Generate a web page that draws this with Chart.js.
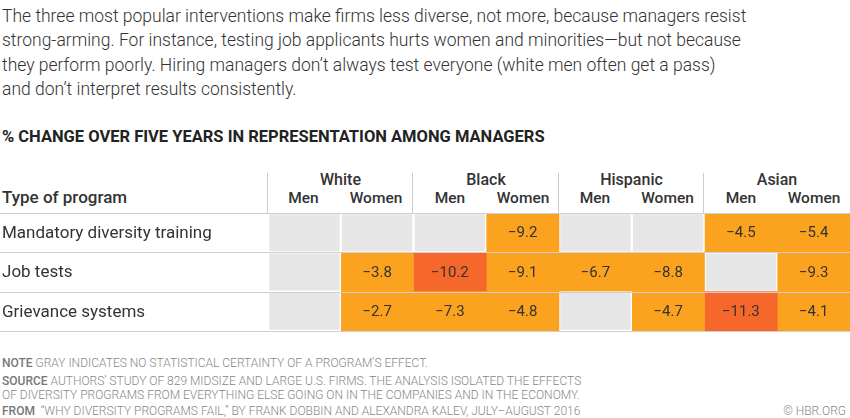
<!DOCTYPE html>
<html><head><meta charset="utf-8">
<script src="https://cdn.jsdelivr.net/npm/chart.js@4/dist/chart.umd.min.js"></script>
<style>
body{margin:0;width:850px;height:418px;background:#fff;font-family:"Roboto",sans-serif;color:#333;position:relative;overflow:hidden}
.abs{position:absolute;white-space:nowrap}
#intro{left:2px;top:4px;font-size:17.5px;line-height:24.3px;color:#333;font-weight:300}
#title{left:2px;top:127px;font-size:16.5px;font-weight:bold;color:#222}
.grp{font-size:16px;font-weight:500;top:170px;text-align:center}
.sub{font-size:15.5px;font-weight:500;top:189px;text-align:center}
#tp{left:2px;top:187px;font-size:17px;font-weight:500}
.vl{position:absolute;top:173px;height:40px;width:1px;background:#ccc}
.foot{font-size:12px;line-height:14px;color:#888;font-weight:300}
.foot b{color:#777;font-weight:500}
#wrap{position:absolute;left:0;top:212px;width:850px;height:120px}
</style></head><body>
<div id="intro" class="abs">The three most popular interventions make firms less diverse, not more, because managers resist<br>strong-arming. For instance, testing job applicants hurts women and minorities—but not because<br>they perform poorly. Hiring managers don’t always test everyone (white men often get a pass)<br>and don’t interpret results consistently.</div>
<div id="title" class="abs">% CHANGE OVER FIVE YEARS IN REPRESENTATION AMONG MANAGERS</div>
<div id="tp" class="abs">Type of program</div>
<div id="heads"></div>
<div id="wrap"><canvas id="c"></canvas></div>
<div class="abs foot" style="left:2px;top:356px"><b>NOTE</b> GRAY INDICATES NO STATISTICAL CERTAINTY OF A PROGRAM’S EFFECT.</div>
<div class="abs foot" style="left:2px;top:374px"><b>SOURCE</b> AUTHORS’ STUDY OF 829 MIDSIZE AND LARGE U.S. FIRMS. THE ANALYSIS ISOLATED THE EFFECTS<br>OF DIVERSITY PROGRAMS FROM EVERYTHING ELSE GOING ON IN THE COMPANIES AND IN THE ECONOMY.</div>
<div class="abs foot" style="left:2px;top:404px"><b>FROM</b> &nbsp;“WHY DIVERSITY PROGRAMS FAIL,” BY FRANK DOBBIN AND ALEXANDRA KALEV, JULY–AUGUST 2016</div>
<div class="abs foot" style="right:4px;top:404px">© HBR.ORG</div>
<script>
// Données du tableau
const programs = ['Mandatory diversity training', 'Job tests', 'Grievance systems'];
const groups = ['White', 'Black', 'Hispanic', 'Asian'];
const genders = ['Men', 'Women'];
// null = gris (pas de certitude statistique)
const trainingValues = [null, null, null, -9.2, null, null, -4.5, -5.4];
const jobTestValues = [null, -3.8, -10.2, -9.1, -6.7, -8.8, null, -9.3];
const grievanceValues = [null, -2.7, -7.3, -4.8, null, -4.7, -11.3, -4.1];
const rows = [trainingValues, jobTestValues, grievanceValues];

const GRAY = '#e6e6e7', ORANGE = '#fba31f', RED = '#f5672a';
function cellColor(v) {
    if (v === null) return GRAY;
    return v <= -10 ? RED : ORANGE;
}

// En-têtes
const colEdges = [268, 339, 413, 487, 559, 631, 704, 778, 850];
let html = '';
groups.forEach(function(g, gi) {
    const l = colEdges[gi * 2], r = colEdges[gi * 2 + 2];
    html += '<div class="abs grp" style="left:' + l + 'px;width:' + (r - l) + 'px">' + g + '</div>';
    html += '<div class="vl" style="left:' + (l - 1) + 'px"></div>';
});
for (let i = 0; i < 8; i++) {
    const l = colEdges[i], r = colEdges[i + 1];
    html += '<div class="abs sub" style="left:' + l + 'px;width:' + (r - l) + 'px">' + genders[i % 2] + '</div>';
}
document.getElementById('heads').innerHTML = html;

// Une série par colonne, barres flottantes [i, i+1]
const datasets = [];
for (let col = 0; col < 8; col++) {
    datasets.push({
        data: rows.map(function() { return [col, col + 1]; }),
        values: rows.map(function(r) { return r[col]; }),
        backgroundColor: rows.map(function(r) { return cellColor(r[col]); }),
        borderColor: '#fff',
        borderWidth: rows.map(function(r) { return r[col] === null ? 1.5 : 0; }),
        borderSkipped: false,
        barPercentage: 1,
        categoryPercentage: 1,
        grouped: false
    });
}

const cellLabels = {
    id: 'cellLabels',
    afterDatasetsDraw(chart) {
        const ctx = chart.ctx;
        const ys = chart.scales.y;
        ctx.save();
        ctx.textBaseline = 'middle';
        // libellés des rangées
        ctx.font = '17px Roboto, sans-serif';
        ctx.fillStyle = '#333';
        ctx.textAlign = 'left';
        programs.forEach(function(p, i) {
            ctx.fillText(p, 2, ys.getPixelForValue(i) + 1);
        });
        // valeurs
        ctx.font = '15px Roboto, sans-serif';
        ctx.textAlign = 'center';
        chart.data.datasets.forEach(function(ds, di) {
            chart.getDatasetMeta(di).data.forEach(function(bar, i) {
                const v = ds.values[i];
                if (v === null) return;
                ctx.fillText('\u2212' + Math.abs(v).toFixed(1), (bar.x + bar.base) / 2, bar.y + 1);
            });
        });
        // lignes de séparation des rangées
        ctx.strokeStyle = '#cfcfcf';
        ctx.lineWidth = 1;
        for (let i = 0; i <= programs.length; i++) {
            const y = Math.round(ys.getPixelForValue(i - 0.5)) + 0.5;
            ctx.beginPath();
            ctx.moveTo(0, y);
            ctx.lineTo(chart.width, y);
            ctx.stroke();
        }
        ctx.restore();
    }
};

new Chart(document.getElementById('c'), {
    type: 'bar',
    data: { labels: programs, datasets: datasets },
    options: {
        indexAxis: 'y',
        responsive: true,
        maintainAspectRatio: false,
        animation: false,
        layout: { padding: { top: 1, bottom: 1, left: 0, right: 0 } },
        plugins: { legend: { display: false }, tooltip: { enabled: false } },
        scales: {
            x: { type: 'linear', min: 0, max: 8, display: false },
            y: {
                grid: { display: false },
                border: { display: false },
                afterFit: function(scale) { scale.width = 268; },
                ticks: { display: false }
            }
        }
    },
    plugins: [cellLabels]
});
</script>
</body></html>
